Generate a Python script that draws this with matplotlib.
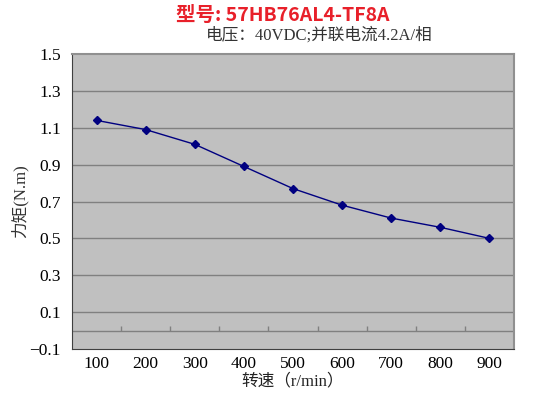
import matplotlib.pyplot as plt

# data
speed = [100, 200, 300, 400, 500, 600, 700, 800, 900]
torque = [1.14, 1.09, 1.01, 0.89, 0.77, 0.68, 0.61, 0.56, 0.50]
y_ticks = [-0.1, 0.1, 0.3, 0.5, 0.7, 0.9, 1.1, 1.3, 1.5]

cjk = ['Noto Sans CJK SC', 'DejaVu Sans']
serif = ['Liberation Serif', 'Noto Sans CJK SC']

fig = plt.figure(figsize=(5.54, 3.93), dpi=100)
ax = fig.add_axes([72 / 554, 44 / 393, 442 / 554, 295 / 393])
ax.set_facecolor('#c0c0c0')

# horizontal gridlines
for y in y_ticks[1:-1]:
    ax.axhline(y, color='#808080', lw=1, zorder=1)

# category axis crossing at zero, with ticks between categories
ax.axhline(0, color='#808080', lw=1, zorder=1)
ax.vlines([s + 50 for s in speed[:-1]], 0, 0.025, color='#808080', lw=1, zorder=1)

ax.plot(speed, torque, color='#000080', lw=1, marker='D', markersize=4.5, zorder=3)

ax.set_xlim(50, 950)
ax.set_ylim(-0.1, 1.5)
ax.set_yticks(y_ticks)
ax.set_yticklabels([f'{v:.1f}'.replace('-', '\u2212') for v in y_ticks], family=serif, fontsize=12.5)
ax.set_xticks(speed)
ax.set_xticklabels([str(s) for s in speed], family=serif, fontsize=12.5)
ax.tick_params(axis='both', length=0, pad=5)
ax.tick_params(axis='y', pad=8)

for side in ['top', 'right']:
    ax.spines[side].set_color('#909090')
    ax.spines[side].set_linewidth(1.5)
ax.spines['left'].set_color('#404040')
ax.spines['bottom'].set_color('#404040')

ax.set_ylabel('力矩(N.m)', family=serif, fontsize=12, color='#333333', labelpad=1)
ax.set_xlabel('转速（r/min）', family=serif, fontsize=12, color='#222222', labelpad=1)

fig.text(0.51, 0.96, '型号: 57HB76AL4-TF8A', family=cjk, fontsize=14, fontweight='bold',
         color='#e8202a', ha='center', va='center')
fig.text(0.577, 0.91, '电压：40VDC;并联电流4.2A/相', family=serif, fontsize=12,
         color='#333333', ha='center', va='center')

fig.savefig('out.png', dpi=100)
